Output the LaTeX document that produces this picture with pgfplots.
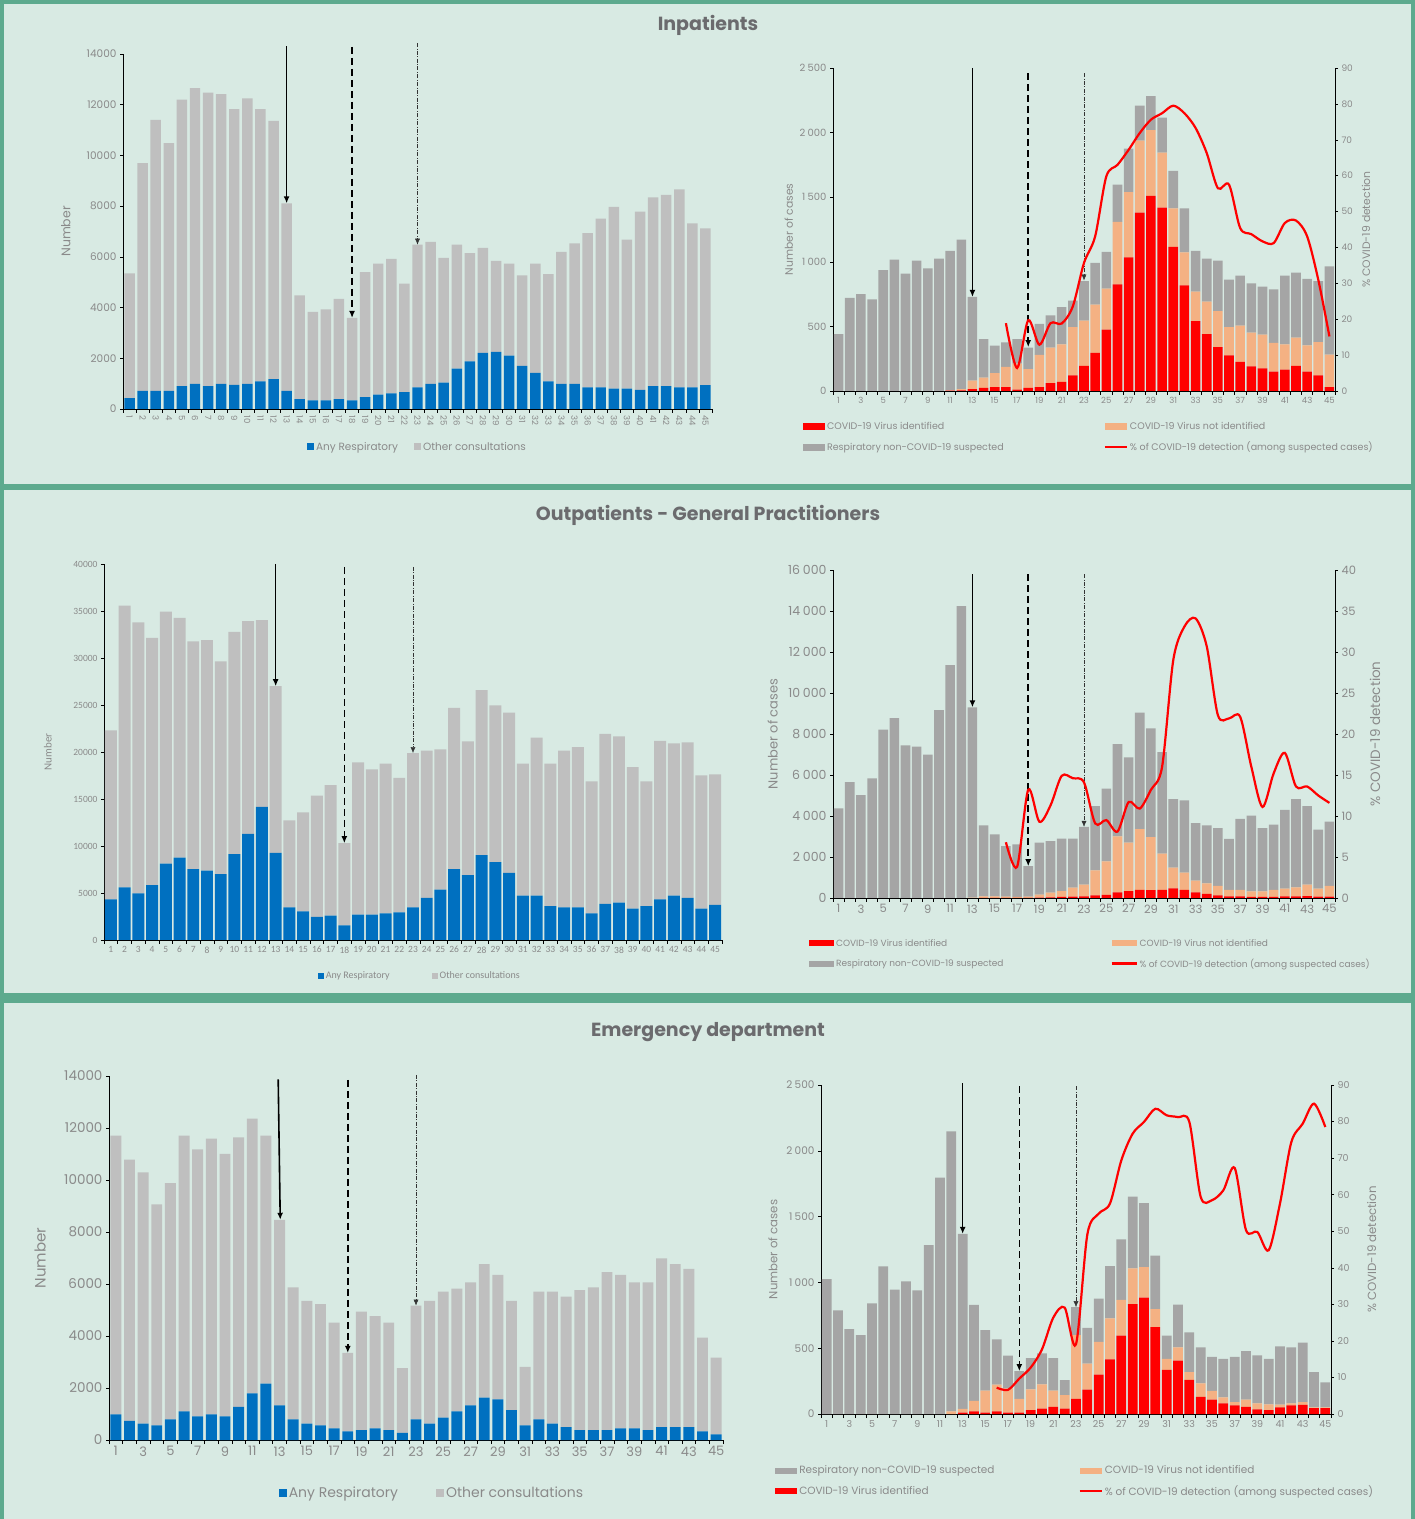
\documentclass[border=0pt]{standalone}
\usepackage{fontspec}
\setmainfont{Poppins}
\newfontfamily\carlito{Carlito}
\usepackage{pgfplots}
\usepackage{pgfplotstable}
\pgfplotsset{compat=1.18}
\usetikzlibrary{arrows.meta}

\definecolor{resp}{HTML}{0070C0}
\definecolor{other}{HTML}{BFBFBF}
\definecolor{nonc}{HTML}{A5A5A5}
\definecolor{notid}{HTML}{F4B183}
\definecolor{covid}{HTML}{FF0000}
\definecolor{bg}{HTML}{D8EAE3}
\definecolor{frame}{HTML}{5DAA8E}
\definecolor{tickgray}{HTML}{8A8A8A}
\definecolor{titlegray}{HTML}{6B6B6E}

\newcommand\fs[1]{\fontsize{#1}{#1}\selectfont}

\pgfplotsset{
  base/.style={
    scale only axis, anchor=south west, clip=false,
    xmin=0.5, xmax=45.5, ymin=0,
    scaled y ticks=false,
    axis x line*=bottom, axis y line*=left,
    axis line style={black, line width=0.6pt},
    tick align=outside, major tick length=3pt, minor tick length=4pt,
    every tick/.style={black, line width=0.5pt},
    major x tick style={draw=none},
    minor xtick={0.5,1.5,...,45.5},
    ticklabel style={text=tickgray},
    label style={text=tickgray},
    /pgf/number format/assume math mode=true,
    legend cell align=left,
    legend style={draw=none, fill=none, text=tickgray},
  },
  sec/.style={
    scale only axis, anchor=south west, clip=false,
    xmin=0.5, xmax=45.5, ymin=0,
    scaled y ticks=false,
    axis x line=none, axis y line*=right,
    axis line style={black, line width=0.6pt},
    tick align=outside, major tick length=3pt,
    every tick/.style={black, line width=0.5pt},
    ticklabel style={text=tickgray},
    label style={text=tickgray},
    /pgf/number format/assume math mode=true,
  },
  barleg/.style 2 args={legend image code/.code={\fill[##1] (0pt,-#2/2) rectangle (#1,#2/2);}},
  lineleg/.style={legend image code/.code={\draw[##1] (0pt,0pt) -- (#1,0pt);}},
}
\tikzset{
  arrA/.style={line width=1.6pt, -{Latex[length=7pt,width=6pt]}},
  arrB/.style={line width=1.6pt, dash pattern=on 7pt off 4pt, -{Latex[length=7pt,width=6pt]}},
  arrC/.style={line width=0.45pt, black!80, dash pattern=on 4pt off 1.5pt on 0.8pt off 1.5pt, -{Latex[length=6pt,width=5pt]}},
}

% Inpatients: weekly consultations
\pgfplotstableread{
wk resp other
1 430 4920
2 710 8990
3 710 10690
4 710 9770
5 900 11300
6 990 11660
7 900 11580
8 990 11430
9 950 10880
10 990 11260
11 1090 10740
12 1180 10180
13 710 7400
14 390 4090
15 340 3490
16 340 3590
17 390 3950
18 340 3250
19 470 4930
20 570 5160
21 620 5300
22 670 4270
23 850 5630
24 990 5600
25 1040 4920
26 1590 4890
27 1880 4270
28 2210 4140
29 2250 3590
30 2100 3630
31 1700 3570
32 1420 4310
33 1090 4230
34 990 5210
35 990 5540
36 850 6090
37 850 6660
38 800 7170
39 800 5880
40 750 7030
41 900 7450
42 900 7540
43 850 7810
44 850 6470
45 940 6180
}\inpL

\pgfplotstableread{
wk id notid non pct
1 0 0 440 nan
2 0 0 720 nan
3 0 0 750 nan
4 0 0 710 nan
5 0 0 935 nan
6 0 0 1017 nan
7 0 0 908 nan
8 0 0 1009 nan
9 0 0 950 nan
10 0 0 1024 nan
11 2 3 1079 nan
12 5 10 1156 nan
13 15 65 648 nan
14 25 78 299 nan
15 30 109 212 nan
16 30 156 191 18.9
17 10 202 190 6.4
18 25 145 165 19.7
19 30 249 240 12.9
20 60 275 251 18.9
21 70 291 289 18.8
22 120 375 205 23.6
23 195 349 307 35.7
24 295 373 323 43.1
25 475 317 284 59.8
26 825 483 289 63.0
27 1035 505 336 67.2
28 1380 558 270 71.9
29 1510 510 263 75.6
30 1420 425 270 77.4
31 1115 299 289 79.5
32 818 255 341 77.4
33 540 229 315 73.3
34 440 251 333 66.3
35 340 279 390 56.5
36 275 220 367 57.5
37 225 281 387 45.4
38 190 261 382 43.7
39 175 261 372 41.7
40 150 222 415 41.2
41 165 196 532 46.8
42 195 218 503 47.5
43 150 203 514 43.1
44 120 259 472 31.0
45 30 251 684 15.2
}\inpR

% Outpatients - GP
\pgfplotstableread{
wk resp other
1 4330 17980
2 5610 29950
3 4970 28810
4 5830 26320
5 8130 26790
6 8770 25510
7 7530 24230
8 7390 24510
9 7000 22630
10 9130 23660
11 11300 22630
12 14170 19860
13 9270 17730
14 3480 9240
15 3050 10520
16 2450 12900
17 2590 13890
18 1560 8740
19 2700 16200
20 2700 15450
21 2840 15920
22 2950 14310
23 3480 16410
24 4480 15660
25 5360 14920
26 7530 17160
27 6890 14250
28 9020 17550
29 8280 16690
30 7140 17050
31 4720 14040
32 4720 16810
33 3590 15170
34 3480 16660
35 3480 17050
36 2840 14030
37 3840 18080
38 3980 17690
39 3340 15060
40 3590 13280
41 4330 16840
42 4720 16200
43 4480 16550
44 3340 14170
45 3730 13890
}\opL

\pgfplotstableread{
wk id notid non pct
1 0 0 4370 nan
2 0 0 5650 nan
3 0 0 5020 nan
4 0 0 5830 nan
5 0 0 8210 nan
6 0 0 8780 nan
7 0 0 7450 nan
8 0 0 7380 nan
9 0 0 6990 nan
10 0 0 9170 nan
11 0 0 11360 nan
12 0 0 14240 nan
13 0 20 9280 nan
14 10 70 3460 nan
15 10 70 3020 nan
16 10 60 2460 6.8
17 10 50 2560 3.8
18 10 60 1480 13.2
19 20 140 2540 9.3
20 30 230 2510 11.3
21 60 270 2570 14.9
22 70 435 2395 14.6
23 80 570 2820 14.1
24 130 1220 3130 9.1
25 150 1640 3540 9.5
26 270 2740 4500 8.1
27 340 2360 4160 11.7
28 390 2970 5680 10.9
29 380 2590 5310 13.2
30 390 1780 4950 16.0
31 470 1010 3340 29.0
32 400 840 3520 33.1
33 280 570 2800 34.1
34 200 517 2823 30.7
35 130 457 2823 22.3
36 80 310 2490 21.9
37 80 310 3470 22.1
38 60 266 3694 16.0
39 50 276 3084 11.1
40 60 330 3190 15.2
41 80 376 3844 17.7
42 80 441 4299 13.6
43 90 560 3830 13.6
44 70 386 2884 12.5
45 70 517 3143 11.6
}\opR

% Emergency department
\pgfplotstableread{
wk resp other
1 990 10720
2 740 10040
3 630 9660
4 560 8500
5 790 9090
6 1100 10610
7 910 10270
8 990 10600
9 910 10090
10 1270 10370
11 1790 10570
12 2170 9540
13 1330 7140
14 790 5080
15 630 4720
16 560 4670
17 450 4060
18 330 3020
19 380 4560
20 450 4310
21 380 4130
22 270 2490
23 790 4380
24 630 4720
25 860 4850
26 1100 4720
27 1330 4730
28 1630 5130
29 1560 4790
30 1150 4200
31 560 2250
32 790 4920
33 630 5080
34 500 5010
35 380 5380
36 380 5490
37 380 6080
38 450 5900
39 450 5610
40 380 5680
41 500 6490
42 500 6260
43 500 6080
44 330 3610
45 220 2950
}\edL

\pgfplotstableread{
wk id notid non pct
1 0 0 1025 nan
2 0 0 787 nan
3 0 0 645 nan
4 0 0 600 nan
5 0 0 840 nan
6 0 0 1121 nan
7 0 0 946 nan
8 0 0 1007 nan
9 0 0 939 nan
10 0 0 1283 nan
11 0 0 1797 nan
12 0 20 2128 nan
13 10 28 1331 nan
14 20 79 731 nan
15 10 167 461 nan
16 20 203 344 7.2
17 10 185 248 6.6
18 10 104 212 9.7
19 30 157 238 12.7
20 40 185 236 17.7
21 55 122 248 26.4
22 40 104 114 29.1
23 115 485 212 19.1
24 185 197 273 49.1
25 300 249 327 54.8
26 415 311 398 57.6
27 595 273 458 69.4
28 835 271 546 76.7
29 885 231 486 79.9
30 660 137 407 83.5
31 335 83 177 81.7
32 405 101 326 81.2
33 260 59 301 79.9
34 130 103 273 59.4
35 110 65 260 58.5
36 80 47 291 61.2
37 65 26 344 67.3
38 55 54 369 50.3
39 35 46 364 49.8
40 30 43 345 44.8
41 50 21 443 57.6
42 65 16 425 74.4
43 70 21 451 79.4
44 45 6 268 84.9
45 45 6 189 78.5
}\edR

\begin{document}
\begin{tikzpicture}
% background and section frames
\fill[frame] (0pt,0pt) rectangle (1415pt,1519pt);
\fill[bg] (4pt,1035pt) rectangle (1411pt,1515pt);
\fill[bg] (4pt,526pt) rectangle (1411pt,1029pt);
\fill[bg] (4pt,0pt) rectangle (1411pt,516pt);

% lower left corners of the six plot areas
\coordinate (A1) at (123pt,1110pt);
\coordinate (A2) at (833pt,1128pt);
\coordinate (B1) at (104pt,579pt);
\coordinate (B2) at (833pt,621pt);
\coordinate (C1) at (109pt,79pt);
\coordinate (C2) at (821pt,105pt);

\node[font=\fs{19}\bfseries, text=titlegray] at (708pt,1494pt) {Inpatients};
\node[font=\fs{19}\bfseries, text=titlegray] at (708pt,1004pt) {Outpatients - General Practitioners};
\node[font=\fs{19}\bfseries, text=titlegray] at (708pt,487pt) {Emergency department};

%================ Inpatients, left
\begin{axis}[base, at={(A1)}, width=589pt, height=355pt,
  ymax=14000, ytick={0,2000,...,14000},
  ybar stacked, bar width=0.8,
  xtick={1,...,45},
  xticklabel style={rotate=-90, anchor=west, font=\fs{8.5}},
  yticklabel style={font=\fs{10.5}},
  /pgf/number format/1000 sep={},
  ylabel={Number}, ylabel style={at={(axis description cs:-0.097,0.5)}, anchor=center, font=\fs{12.5}},
  legend columns=2,
  legend style={at={(0.5,-0.107)}, anchor=center, font=\fs{10.5},
    /tikz/every even column/.append style={column sep=14pt}},
]
\addlegendimage{barleg={7pt}{7pt}, fill=resp, draw=none}
\addlegendimage{barleg={7pt}{7pt}, fill=other, draw=none}
\addplot[fill=resp, draw=none] table[x=wk, y=resp] {\inpL};
\addplot[fill=other, draw=none] table[x=wk, y=other] {\inpL};
\legend{Any Respiratory, Other consultations}
\draw[arrA] (axis cs:13,14300) -- (axis cs:13,8110);
\draw[arrB] (axis cs:18,14280) -- (axis cs:18,3590);
\draw[arrC] (axis cs:23,14430) -- (axis cs:23,6480);
\end{axis}

%================ Inpatients, right
\begin{axis}[base, at={(A2)}, width=502pt, height=323pt,
  ymax=2500, ytick={0,500,...,2500},
  ybar stacked, bar width=0.86,
  xtick={1,3,...,45},
  xticklabel style={font=\fs{8.5}},
  yticklabel style={font=\fs{10}},
  /pgf/number format/1000 sep={\hspace{0.22em}},
  ylabel={Number of cases}, ylabel style={at={(axis description cs:-0.088,0.5)}, anchor=center, font=\fs{10.8}},
  legend columns=2,
  legend style={at={(-0.066,-0.084)}, anchor=north west, font=\fs{9.5}, row sep=7pt,
    /tikz/every even column/.append style={column sep=98pt}},
]
\addlegendimage{barleg={22pt}{7pt}, fill=covid, draw=none}
\addlegendimage{barleg={22pt}{7pt}, fill=notid, draw=none}
\addlegendimage{barleg={22pt}{7pt}, fill=nonc, draw=none}
\addlegendimage{lineleg={22pt}, covid, line width=2.2pt}
\addplot[fill=covid, draw=none] table[x=wk, y=id] {\inpR};
\addplot[fill=notid, draw=none] table[x=wk, y=notid] {\inpR};
\addplot[fill=nonc, draw=none] table[x=wk, y=non] {\inpR};
\legend{COVID-19 Virus identified, COVID-19 Virus not identified,
  Respiratory non-COVID-19 suspected, \% of COVID-19 detection (among suspected cases)}
\draw[arrA] (axis cs:13,2500) -- (axis cs:13,728);
\draw[arrB] (axis cs:18,2460) -- (axis cs:18,340);
\draw[arrC] (axis cs:23,2460) -- (axis cs:23,855);
\end{axis}
\begin{axis}[sec, at={(A2)}, width=502pt, height=323pt,
  ymax=90, ytick={0,10,...,90},
  yticklabel style={font=\fs{9}},
  ylabel={\% COVID-19 detection}, ylabel style={at={(axis description cs:1.062,0.5)}, anchor=center, font=\fs{10.8}},
]
\addplot[covid, line width=2.2pt, smooth] table[x=wk, y=pct] {\inpR};
\end{axis}

%================ Outpatients, left
\begin{axis}[base, at={(B1)}, width=618pt, height=376pt,
  ymax=40000, ytick={0,5000,...,40000},
  ybar stacked, bar width=0.87,
  xtick={1,...,45},
  xticklabel style={font=\carlito\fs{9.5}},
  yticklabel style={font=\carlito\fs{9.5}},
  /pgf/number format/1000 sep={},
  ylabel={Number}, ylabel style={at={(axis description cs:-0.091,0.5)}, anchor=center, font=\carlito\fs{11}},
  legend columns=2,
  legend style={at={(0.511,-0.096)}, anchor=center, font=\carlito\fs{10},
    /tikz/every even column/.append style={column sep=40pt}},
]
\addlegendimage{barleg={6pt}{6pt}, fill=resp, draw=none}
\addlegendimage{barleg={6pt}{6pt}, fill=other, draw=none}
\addplot[fill=resp, draw=none] table[x=wk, y=resp] {\opL};
\addplot[fill=other, draw=none] table[x=wk, y=other] {\opL};
\legend{Any Respiratory, Other consultations}
\draw[arrA] (axis cs:13,40000) -- (axis cs:13,27000);
\draw[arrB] (axis cs:18,39700) -- (axis cs:18,10300);
\draw[arrC] (axis cs:23,39700) -- (axis cs:23,19890);
\end{axis}

%================ Outpatients, right
\begin{axis}[base, at={(B2)}, width=502pt, height=328pt,
  ymax=16000, ytick={0,2000,...,16000},
  ybar stacked, bar width=0.86,
  xtick={1,3,...,45},
  xticklabel style={font=\fs{11.5}},
  yticklabel style={font=\fs{12.5}},
  /pgf/number format/1000 sep={\hspace{0.22em}},
  ylabel={Number of cases}, ylabel style={at={(axis description cs:-0.12,0.5)}, anchor=center, font=\fs{13}},
  legend columns=2,
  legend style={at={(-0.054,-0.113)}, anchor=north west, font=\fs{9}, row sep=7pt,
    /tikz/every even column/.append style={column sep=105pt}},
]
\addlegendimage{barleg={25pt}{6pt}, fill=covid, draw=none}
\addlegendimage{barleg={25pt}{6pt}, fill=notid, draw=none}
\addlegendimage{barleg={25pt}{6pt}, fill=nonc, draw=none}
\addlegendimage{lineleg={25pt}, covid, line width=2.2pt}
\addplot[fill=covid, draw=none] table[x=wk, y=id] {\opR};
\addplot[fill=notid, draw=none] table[x=wk, y=notid] {\opR};
\addplot[fill=nonc, draw=none] table[x=wk, y=non] {\opR};
\legend{COVID-19 Virus identified, COVID-19 Virus not identified,
  Respiratory non-COVID-19 suspected, \% of COVID-19 detection (among suspected cases)}
\draw[arrA] (axis cs:13,15800) -- (axis cs:13,9300);
\draw[arrB] (axis cs:18,15800) -- (axis cs:18,1550);
\draw[arrC] (axis cs:23,15800) -- (axis cs:23,3470);
\end{axis}
\begin{axis}[sec, at={(B2)}, width=502pt, height=328pt,
  ymax=40, ytick={0,5,...,40},
  yticklabel style={font=\fs{11.5}},
  ylabel={\% COVID-19 detection}, ylabel style={at={(axis description cs:1.08,0.5)}, anchor=center, font=\fs{13.5}},
]
\addplot[covid, line width=2.2pt, smooth] table[x=wk, y=pct] {\opR};
\end{axis}

%================ Emergency department, left
\begin{axis}[base, at={(C1)}, width=614pt, height=364pt,
  ymax=14000, ytick={0,2000,...,14000},
  ybar stacked, bar width=0.8,
  xtick={1,3,...,45},
  xticklabel style={font=\fs{13}},
  yticklabel style={font=\fs{13.5}},
  /pgf/number format/1000 sep={},
  ylabel={Number}, ylabel style={at={(axis description cs:-0.112,0.5)}, anchor=center, font=\fs{15}},
  legend columns=2,
  legend style={at={(0.526,-0.146)}, anchor=center, font=\fs{14},
    /tikz/every even column/.append style={column sep=36pt}},
]
\addlegendimage{barleg={8pt}{8pt}, fill=resp, draw=none}
\addlegendimage{barleg={8pt}{8pt}, fill=other, draw=none}
\addplot[fill=resp, draw=none] table[x=wk, y=resp] {\edL};
\addplot[fill=other, draw=none] table[x=wk, y=other] {\edL};
\legend{Any Respiratory, Other consultations}
\draw[arrA] (axis cs:12.9,13870) -- (axis cs:13.05,8470);
\draw[arrB] (axis cs:18,13850) -- (axis cs:18,3350);
\draw[arrC] (axis cs:23,14040) -- (axis cs:23,5170);
\end{axis}

%================ Emergency department, right
\begin{axis}[base, at={(C2)}, width=510pt, height=329pt,
  ymax=2500, ytick={0,500,...,2500},
  ybar stacked, bar width=0.86,
  xtick={1,3,...,45},
  xticklabel style={font=\fs{9.5}},
  yticklabel style={font=\fs{10.5}},
  /pgf/number format/1000 sep={\hspace{0.22em}},
  ylabel={Number of cases}, ylabel style={at={(axis description cs:-0.094,0.5)}, anchor=center, font=\fs{11.7}},
  legend columns=2,
  legend style={at={(-0.096,-0.145)}, anchor=north west, font=\fs{10.5}, row sep=6pt,
    /tikz/every even column/.append style={column sep=82pt}},
]
\addlegendimage{barleg={22pt}{6pt}, fill=nonc, draw=none}
\addlegendimage{barleg={22pt}{6pt}, fill=notid, draw=none}
\addlegendimage{barleg={22pt}{6pt}, fill=covid, draw=none}
\addlegendimage{lineleg={22pt}, covid, line width=2.2pt}
\addplot[fill=covid, draw=none] table[x=wk, y=id] {\edR};
\addplot[fill=notid, draw=none] table[x=wk, y=notid] {\edR};
\addplot[fill=nonc, draw=none] table[x=wk, y=non] {\edR};
\legend{Respiratory non-COVID-19 suspected, COVID-19 Virus not identified,
  COVID-19 Virus identified, \% of COVID-19 detection (among suspected cases)}
\draw[arrA] (axis cs:13,2515) -- (axis cs:13,1369);
\draw[arrB] (axis cs:18,2490) -- (axis cs:18,326);
\draw[arrC] (axis cs:23,2490) -- (axis cs:23,812);
\end{axis}
\begin{axis}[sec, at={(C2)}, width=510pt, height=329pt,
  ymax=90, ytick={0,10,...,90},
  yticklabel style={font=\fs{9.5}},
  ylabel={\% COVID-19 detection}, ylabel style={at={(axis description cs:1.08,0.5)}, anchor=center, font=\fs{11.8}},
]
\addplot[covid, line width=2.2pt, smooth] table[x=wk, y=pct] {\edR};
\end{axis}

\pgfresetboundingbox
\useasboundingbox (0pt,0pt) rectangle (1415pt,1519pt);
\end{tikzpicture}
\end{document}
